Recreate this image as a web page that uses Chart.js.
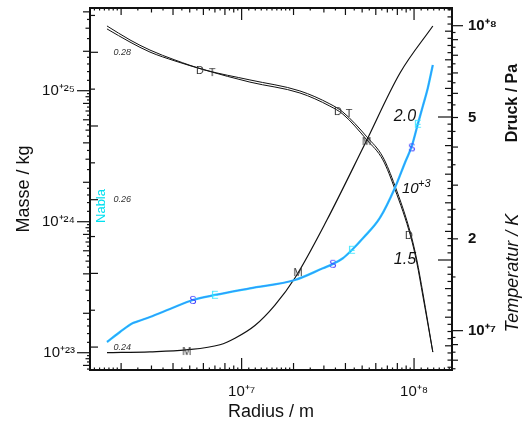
<!DOCTYPE html>
<html>
<head>
<meta charset="utf-8">
<title>Radius - Masse - Druck - Temperatur</title>
<script src="https://cdn.jsdelivr.net/npm/chart.js@4.4.1/dist/chart.umd.min.js"></script>
<style>
  body { margin: 0; background: #fff; }
  canvas { display: block; }
</style>
</head>
<body>
<canvas id="myChart" width="527" height="427"></canvas>
<script>
// curves
var massRadius = [1.656e6, 2.94e6, 4.755e6, 7.485e6, 9.147e6, 1.194e7, 1.56e7, 2.037e7, 3.123e7, 5.185e7, 8.275e7, 1.285e8];
var massValues = [1.0e23, 1.016e23, 1.05e23, 1.15e23, 1.29e23, 1.613e23, 2.31e23, 3.72e23, 1.03e24, 3.92e24, 1.36e25, 3.12e25];

var ptRadius = [1.656e6, 2.252e6, 2.94e6, 4.105e6, 6.128e6, 1.117e7, 2.178e7, 3.25e7, 3.866e7, 5.325e7, 6.596e7, 7.741e7, 9.58e7, 1.038e8, 1.125e8, 1.285e8];
var pressureValues = [9.98e7, 8.98e7, 8.32e7, 7.72e7, 7.16e7, 6.64e7, 6.11e7, 5.54e7, 5.21e7, 4.32e7, 3.71e7, 2.99e7, 2.07e7, 1.705e7, 1.33e7, 8.51e6];
var temperatureValues = [2308, 2262, 2227, 2196, 2164, 2122, 2084, 2038, 2010, 1920, 1850, 1748, 1580, 1490, 1374, 1178];

var nablaRadius = [1.656e6, 1.97e6, 2.344e6, 2.472e6, 2.94e6, 3.84e6, 5.22e6, 7.0e6, 1.117e7, 2.037e7, 2.96e7, 3.383e7, 3.866e7, 4.36e7, 5.05e7, 6.335e7, 7.741e7, 8.845e7, 9.71e7, 1.052e8, 1.125e8, 1.202e8, 1.285e8];
var nablaValues = [0.24069, 0.24205, 0.24327, 0.24345, 0.24408, 0.24517, 0.24639, 0.24707, 0.24798, 0.2491, 0.25069, 0.25128, 0.25205, 0.25317, 0.25476, 0.25752, 0.26159, 0.26498, 0.26729, 0.27027, 0.27271, 0.27516, 0.27828];

// letter markers on the curves
var dRadius = [5.73e6, 3.616e7, 9.33e7];
var dPressure = [7.16e7, 5.25e7, 2.06e7];
var tRadius = [6.745e6, 4.188e7];
var tTemperature = [2157, 2014];
var mRadius = [4.8e6, 2.12e7, 5.3e7];
var mMass = [1.03e23, 4.13e23, 4.13e24];
var sRadius = [5.22e6, 3.383e7, 9.71e7];
var sNabla = [0.2464, 0.2513, 0.2671];
var eRadius = [7.0e6, 4.36e7, 1.052e8];
var eNabla = [0.2471, 0.2532, 0.2703];

// tick labels
var radiusTicks = [1e7, 1e8];
var radiusTickLabels = ['10⁺⁷', '10⁺⁸'];
var massTicks = [1e23, 1e24, 1e25];
var massTickLabels = ['10⁺²³', '10⁺²⁴', '10⁺²⁵'];
var pressureTicks = [1e7, 2e7, 5e7, 1e8];
var pressureTickLabels = ['10⁺⁷', '2', '5', '10⁺⁸'];
var temperatureTicks = [1500, 2000];
var temperatureTickLabels = ['1.5', '2.0'];
var nablaTicks = [0.24, 0.26, 0.28];
var nablaTickLabels = ['0.24', '0.26', '0.28'];

var FONT = '"Liberation Sans", Arial, Helvetica, sans-serif';
Chart.defaults.font.family = FONT;
Chart.defaults.font.size = 15;
Chart.defaults.color = '#111';

function pairs(xs, ys) {
  return xs.map(function (x, i) { return {x: x, y: ys[i]}; });
}
function pick(values, labels) {
  return function (v) { var i = values.indexOf(v); return i < 0 ? '' : labels[i]; };
}
function fixTicks(values) {
  return function (axis) { axis.ticks = values.map(function (v) { return {value: v}; }); };
}
function letter(ch, color) {
  var c = document.createElement('canvas');
  c.width = 14; c.height = 14;
  var g = c.getContext('2d');
  g.font = '11px ' + FONT;
  g.fillStyle = color;
  g.textAlign = 'center';
  g.textBaseline = 'middle';
  g.fillText(ch, 7, 7.5);
  return c;
}
function markers(xs, ys, axis, img) {
  return { data: pairs(xs, ys), yAxisID: axis, showLine: false, pointStyle: img, pointRadius: 5, borderWidth: 0 };
}
function curve(xs, ys, axis, color, width) {
  return { data: pairs(xs, ys), yAxisID: axis, borderColor: color, borderWidth: width,
    pointRadius: 0, fill: false, cubicInterpolationMode: 'monotone' };
}

// log ticks: fine steps below 2, half steps above
function logSteps(scale, fine) {
  var out = [];
  var d0 = Math.floor(Math.log10(scale.min)), d1 = Math.floor(Math.log10(scale.max));
  for (var d = d0; d <= d1; d++) {
    for (var k = 10; k < 100; k += (k < 20 ? fine : 5)) {
      var v = k / 10 * Math.pow(10, d);
      if (v >= scale.min && v <= scale.max) out.push({v: v, m: k / 10});
    }
  }
  return out;
}
function seg(ctx, x1, y1, x2, y2) {
  ctx.beginPath(); ctx.moveTo(x1, y1); ctx.lineTo(x2, y2); ctx.stroke();
}
function vtext(ctx, txt, x, y) {
  ctx.save(); ctx.translate(x, y); ctx.rotate(-Math.PI / 2);
  ctx.textAlign = 'center'; ctx.textBaseline = 'middle';
  ctx.fillText(txt, 0, 0); ctx.restore();
}

var frame = {
  id: 'frame',
  beforeDraw: function (chart) {
    var ctx = chart.ctx;
    ctx.save(); ctx.fillStyle = '#fff'; ctx.fillRect(0, 0, chart.width, chart.height); ctx.restore();
  },
  afterDraw: function (chart) {
    var ctx = chart.ctx, a = chart.chartArea, s = chart.scales;
    ctx.save();
    ctx.strokeStyle = '#111';
    ctx.lineWidth = 1.2;

    logSteps(s.x, 1).forEach(function (t) {
      var px = s.x.getPixelForValue(t.v);
      var len = t.m === 1 ? 12 : (t.m % 2 === 0 ? 7 : (t.m % 1 === 0 ? 4.5 : 2.5));
      seg(ctx, px, a.bottom, px, a.bottom - len);
      seg(ctx, px, a.top, px, a.top + len);
    });
    logSteps(s.y, 2).forEach(function (t) {
      var py = s.y.getPixelForValue(t.v);
      var len = t.m === 1 ? 13 : (t.m % 2 === 0 ? 7 : (t.m % 1 === 0 ? 4.5 : 3));
      seg(ctx, a.left, py, a.left - len, py);
    });
    logSteps(s.yP, 5).forEach(function (t) {
      var py = s.yP.getPixelForValue(t.v);
      var len = t.m === 1 ? 11 : (t.m % 1 === 0 ? 6 : 3.5);
      seg(ctx, a.right, py, a.right + len, py);
    });
    for (var k = 1125; k <= 2375; k += 25) {
      var py = s.yT.getPixelForValue(k);
      var len = k % 500 === 0 ? 14 : (k % 100 === 0 ? 7 : 4.5);
      seg(ctx, a.right, py, a.right - len, py);
    }
    for (var n = 237; n <= 286; n++) {
      if (n % 5 !== 0) continue;
      var qy = s.yN.getPixelForValue(n / 1000);
      seg(ctx, a.left, qy, a.left + (n % 10 === 0 ? 8 : 5), qy);
    }

    ctx.lineWidth = 2;
    ctx.strokeRect(a.left, a.top, a.right - a.left, a.bottom - a.top);

    ctx.fillStyle = '#00e0f0';
    ctx.font = '13px ' + FONT;
    vtext(ctx, 'Nabla', 101, 206);

    ctx.fillStyle = '#111';
    ctx.font = 'bold 16px ' + FONT;
    vtext(ctx, 'Druck / Pa', 513, 103);
    ctx.font = 'italic 18px ' + FONT;
    vtext(ctx, 'Temperatur / K', 513, 273);

    ctx.textAlign = 'left';
    ctx.textBaseline = 'alphabetic';
    ctx.font = 'italic 15px ' + FONT;
    ctx.fillText('10', 402, 193);
    ctx.font = 'italic 11px ' + FONT;
    ctx.fillText('+3', 418, 187);
    ctx.restore();
  }
};

var ctx = document.getElementById('myChart').getContext('2d');
var myChart = new Chart(ctx, {
  type: 'line',
  data: {
    datasets: [
      markers(dRadius, dPressure, 'yP', letter('D', '#333')),
      markers(tRadius, tTemperature, 'yT', letter('T', '#333')),
      markers(mRadius, mMass, 'y', letter('M', '#333')),
      markers(sRadius, sNabla, 'yN', letter('S', '#3a3aff')),
      markers(eRadius, eNabla, 'yN', letter('E', '#30e4ff')),
      curve(nablaRadius, nablaValues, 'yN', '#3a8cff', 1),
      curve(nablaRadius, nablaValues, 'yN', '#22ccff', 2.3),
      curve(massRadius, massValues, 'y', '#111', 1.2),
      curve(ptRadius, pressureValues, 'yP', '#111', 1),
      curve(ptRadius, temperatureValues, 'yT', '#111', 1)
    ]
  },
  options: {
    responsive: false,
    animation: false,
    layout: { padding: { top: 8, left: 0, right: 0, bottom: 0 } },
    plugins: { legend: { display: false }, tooltip: { enabled: false } },
    scales: {
      x: {
        type: 'logarithmic', position: 'bottom', min: 1.32e6, max: 1.66e8,
        grid: { display: false, drawTicks: true, tickLength: 13 }, border: { display: false },
        afterBuildTicks: fixTicks(radiusTicks),
        ticks: { callback: pick(radiusTicks, radiusTickLabels), autoSkip: false, maxRotation: 0, padding: 0 },
        title: { display: true, text: 'Radius / m', font: { size: 18 }, padding: { top: 0, bottom: 4 } },
        afterFit: function (sc) { sc.height = 57; }
      },
      y: {
        type: 'logarithmic', position: 'left', min: 7.38e22, max: 4.28e25,
        grid: { display: false, drawTicks: true, tickLength: 15 }, border: { display: false },
        afterBuildTicks: fixTicks(massTicks),
        ticks: { callback: pick(massTicks, massTickLabels), autoSkip: false, padding: 0, font: { lineHeight: 1 } },
        title: { display: true, text: 'Masse / kg', font: { size: 18 }, padding: { top: 13, bottom: 0 } },
        afterFit: function (sc) { sc.width = 90; }
      },
      yP: {
        type: 'logarithmic', position: 'right', min: 7.43e6, max: 1.143e8,
        grid: { display: false, drawTicks: true, tickLength: 16 }, border: { display: false },
        afterBuildTicks: fixTicks(pressureTicks),
        ticks: { callback: pick(pressureTicks, pressureTickLabels), autoSkip: false, padding: 0,
          font: { weight: 'bold', lineHeight: 1 } },
        afterFit: function (sc) { sc.width = 75; }
      },
      yT: {
        type: 'linear', position: { x: 1.027e8 }, min: 1115.4, max: 2381.1,
        grid: { display: false, drawTicks: false }, border: { display: false },
        afterBuildTicks: fixTicks(temperatureTicks),
        ticks: { callback: pick(temperatureTicks, temperatureTickLabels), autoSkip: false, padding: 0,
          font: { size: 16, style: 'italic', lineHeight: 1 } }
      },
      yN: {
        type: 'linear', position: { x: 2.282e6 }, min: 0.23689, max: 0.28601,
        grid: { display: false, drawTicks: false }, border: { display: false },
        afterBuildTicks: fixTicks(nablaTicks),
        ticks: { callback: pick(nablaTicks, nablaTickLabels), autoSkip: false, padding: 0, color: '#333',
          font: { size: 9, style: 'italic', lineHeight: 1 } }
      }
    }
  },
  plugins: [frame]
});
</script>
</body>
</html>
